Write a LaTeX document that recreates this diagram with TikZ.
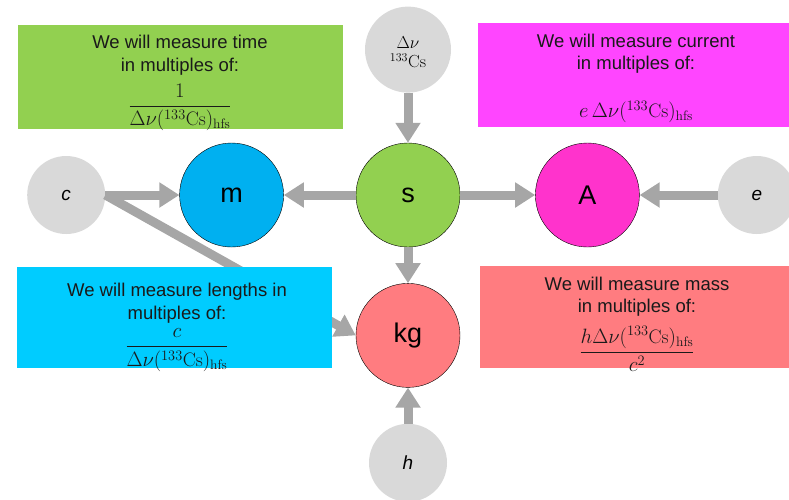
\documentclass[tikz,border=0pt]{standalone}
\usepackage{amsmath}
\usepackage{fontspec}
\setsansfont{Liberation Sans}
\usepackage{tikz}
\usetikzlibrary{positioning, arrows.meta, calc}

\definecolor{timegreen}{HTML}{92D050}
\definecolor{currentmagenta}{HTML}{FF45FF}
\definecolor{ampmagenta}{HTML}{FF33CC}
\definecolor{lengthcyan}{HTML}{00CCFF}
\definecolor{metreblue}{HTML}{00B0F0}
\definecolor{massred}{HTML}{FF7C80}
\definecolor{constgray}{HTML}{D9D9D9}
\definecolor{arrowgray}{HTML}{A6A6A6}
\definecolor{textdark}{HTML}{1A1A1A}

\newcommand{\hfsfreq}{\Delta\nu(^{133}\mathrm{Cs})_{\mathrm{hfs}}}
\newcommand{\mathsize}{\fontsize{19.5}{24}\selectfont}

\begin{document}
\begin{tikzpicture}[
	x=1pt, y=-1pt,
	% --- STYLES ---
	unitnode/.style={
		circle, draw=black, thin, minimum size=104pt, inner sep=0pt,
		font=\sffamily\fontsize{27}{27}\selectfont
	},
	constnode/.style={
		circle, fill=constgray, minimum size=78pt, inner sep=0pt, align=center,
		font=\sffamily\itshape\fontsize{19}{19}\selectfont
	},
	infobox/.style={
		rectangle, inner sep=0pt
	},
	infotext/.style={
		inner sep=0pt, anchor=north, align=center, text=textdark,
		font=\sffamily\fontsize{18.5}{22.5}\selectfont
	},
	line/.style={
		draw=arrowgray, line width=9pt, -{Triangle[width=24pt,length=20pt]}
	}
	]
	\useasboundingbox (0,0) rectangle (789,499);

	% ==========================================
	% 1. Units (middle row and kg)
	% ==========================================
	\node [unitnode, fill=timegreen] (s_node) at (408,195) {s};
	\node [unitnode, fill=metreblue, left=72pt of s_node] (m_node) {m};
	\node [unitnode, fill=ampmagenta, right=75pt of s_node] (a_node) {A};
	\node [unitnode, fill=massred, below=36pt of s_node] (kg_node) {kg};

	% ==========================================
	% 2. Defining constants
	% ==========================================
	\node [constnode, minimum size=86pt, font=\fontsize{17.5}{19.5}\selectfont, above=50pt of s_node] (cs_node) {\rule{0pt}{17pt}$\Delta\nu$\\$^{133}\mathrm{Cs}$};
	\node [constnode, left=74pt of m_node] (c_node) {c};
	\node [constnode, right=78pt of a_node] (e_node) {e};
	\node [constnode, below=36pt of kg_node] (h_node) {h};

	% ==========================================
	% 3. Arrows
	% ==========================================
	\draw [line] (cs_node) -- (s_node);
	\draw [line] (s_node) -- (m_node);
	\draw [line] (s_node) -- (a_node);
	\draw [line] (s_node) -- (kg_node);
	\draw [line] (c_node.east) -- (m_node.west);
	\draw [line] (e_node.west) -- (a_node.east);
	\draw [line] (h_node) -- (kg_node);
	\draw [line] (c_node.east) -- (kg_node.west); % runs behind the length box

	% ==========================================
	% 4. Text boxes
	% ==========================================
	\node [infobox, fill=timegreen, minimum width=325pt, minimum height=104pt] (time_box) at (180.5,77) {};
	\node [infotext] (time_text) at (180,35)
		{We will measure time\\in multiples of:\\[8pt]{\mathsize$\dfrac{1}{\hfsfreq}$}};

	\node [infobox, fill=currentmagenta, minimum width=311pt, minimum height=104pt] (current_box) at (633.5,75) {};
	\node [infotext] (current_text) at (636,33.5)
		{We will measure current\\in multiples of:\\[25.5pt]{\mathsize$e\,\hfsfreq$}};

	\node [infobox, fill=lengthcyan, minimum width=315pt, minimum height=101pt] (length_box) at (174.5,317.5) {};
	\node [infotext] (length_text) at (177,283)
		{We will measure lengths in\\multiples of:\\[5pt]{\mathsize$\dfrac{c}{\hfsfreq}$}};

	\node [infobox, fill=massred, minimum width=309pt, minimum height=102pt] (mass_box) at (634.5,317) {};
	\node [infotext] (mass_text) at (637,276.5)
		{We will measure mass\\in multiples of:\\[9pt]{\mathsize$\dfrac{h\hfsfreq}{c^2}$}};
\end{tikzpicture}
\end{document}
